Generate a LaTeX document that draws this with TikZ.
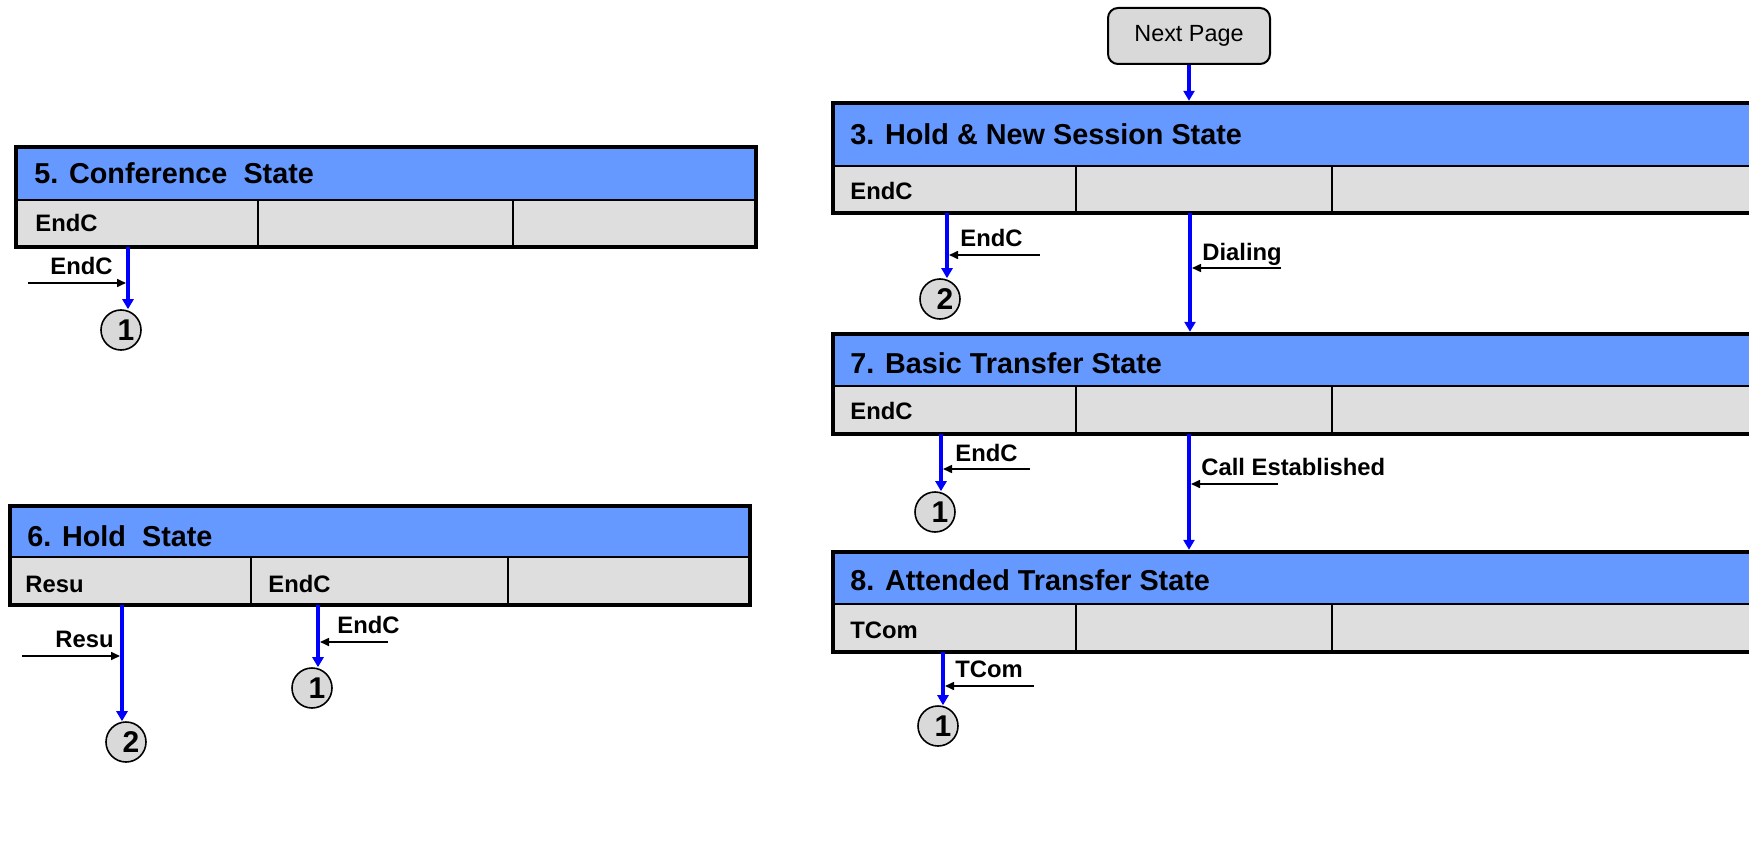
\documentclass[tikz,border=0pt]{standalone}
\usepackage{fontspec}
\setmainfont{Liberation Sans}
\usetikzlibrary{arrows.meta}
\definecolor{bandblue}{HTML}{6699FF}
\definecolor{cellgray}{HTML}{DEDEDE}
\definecolor{circgray}{HTML}{D9D9D9}
\definecolor{arrowblue}{HTML}{0000FF}
\newcommand{\cdigit}[1]{\hspace*{5pt}#1}
\tikzset{
  band/.style={fill=bandblue, draw=none, anchor=north west, inner sep=0pt, outer sep=0pt},
  cell/.style={fill=cellgray, draw=black, line width=1pt, anchor=north west, inner sep=0pt, outer sep=0pt},
  border/.style={draw=black, line width=2.3pt},
  titletext/.style={anchor=base west, inner sep=0pt, font=\bfseries\fontsize{14.4}{17}\selectfont},
  celltext/.style={anchor=base west, inner sep=0pt, font=\bfseries\fontsize{11.9}{14}\selectfont},
  conn/.style={circle, draw=black, line width=0.8pt, fill=circgray, minimum size=20pt, inner sep=0pt, font=\bfseries\fontsize{15}{17}\selectfont},
  pagebox/.style={rectangle, rounded corners=5pt, draw=black, line width=1pt, fill=circgray, minimum width=81pt, minimum height=28pt, inner sep=0pt, font=\fontsize{11.7}{14}\selectfont},
  bluearrow/.style={draw=arrowblue, line width=2pt, -{Triangle[length=5pt,width=5.5pt]}},
  blackarrow/.style={draw=black, line width=0.8pt, -{Triangle[length=4.5pt,width=4pt]}, shorten >=1pt},
}
\begin{document}
\begin{tikzpicture}[x=0.5pt, y=-0.5pt]
\useasboundingbox (0,0) rectangle (1749,850);
\clip (0,0) rectangle (1749,850);

% ---------- 5. Conference State ----------
\node[band, minimum width=370pt, minimum height=26.5pt] (s5) at (16,147) {};
\node[cell, minimum width=121pt, minimum height=23.5pt] (s5a) at (16,200) {};
\node[cell, minimum width=127.5pt, minimum height=23.5pt] (s5b) at (258,200) {};
\node[cell, minimum width=121.5pt, minimum height=23.5pt] (s5c) at (513,200) {};
\draw[border] (s5.north west) rectangle (s5c.south east);
\node[titletext] (s5t) at (34,184) {5. Conference\ \ State};
\node[celltext] (s5at) at (35,232) {EndC};

\coordinate (t5) at (128,247);
\node[conn] (c5) at (121,330) {\cdigit{1}};
\draw[bluearrow] (t5) -- (t5 |- c5.north);
\coordinate (e5) at (28,283);
\draw[blackarrow] (e5) -- (e5 -| t5);
\node[celltext] (l5) at (50,274) {EndC};

% ---------- 6. Hold State ----------
\node[band, minimum width=370pt, minimum height=25.5pt] (s6) at (10,506) {};
\node[cell, minimum width=120.5pt, minimum height=24pt] (s6a) at (10,557) {};
\node[cell, minimum width=128.5pt, minimum height=24pt] (s6b) at (251,557) {};
\node[cell, minimum width=121pt, minimum height=24pt] (s6c) at (508,557) {};
\draw[border] (s6.north west) rectangle (s6c.south east);
\node[titletext] (s6t) at (27,546) {6. Hold\ \ State};
\node[celltext] (s6at) at (25,592) {Resu};
\node[celltext] (s6bt) at (268,592) {EndC};

\coordinate (t6a) at (122,605);
\node[conn] (c6a) at (126,742) {\cdigit{2}};
\draw[bluearrow] (t6a) -- (t6a |- c6a.north);
\coordinate (e6a) at (22,656);
\draw[blackarrow] (e6a) -- (e6a -| t6a);
\node[celltext] (l6a) at (55,647) {Resu};

\coordinate (t6b) at (318,605);
\node[conn] (c6b) at (312,688) {\cdigit{1}};
\draw[bluearrow] (t6b) -- (t6b |- c6b.north);
\coordinate (e6b) at (388,642);
\draw[blackarrow] (e6b) -- (e6b -| t6b);
\node[celltext] (l6b) at (337,633) {EndC};

% ---------- Next Page ----------
\node[pagebox] (np) at (1189,36) {Next Page};

% ---------- 3. Hold & New Session State ----------
\node[band, minimum width=463.5pt, minimum height=31.5pt] (s3) at (833,103) {};
\node[cell, minimum width=121.5pt, minimum height=23.5pt] (s3a) at (833,166) {};
\node[cell, minimum width=128pt, minimum height=23.5pt] (s3b) at (1076,166) {};
\node[cell, minimum width=214pt, minimum height=23.5pt] (s3c) at (1332,166) {};
\draw[border] (s3.north west) rectangle (s3c.south east);
\node[titletext] (s3t) at (850,145) {3. Hold \& New Session State};
\node[celltext] (s3at) at (850,199) {EndC};

\draw[bluearrow, shorten >=1.1pt] (np.south) -- (np.south |- s3.north);

\coordinate (t3a) at (947,213);
\node[conn] (c3a) at (940,299) {\cdigit{2}};
\draw[bluearrow] (t3a) -- (t3a |- c3a.north);
\coordinate (e3a) at (1040,255);
\draw[blackarrow] (e3a) -- (e3a -| t3a);
\node[celltext] (l3a) at (960,247) {EndC};

% ---------- 7. Basic Transfer State ----------
\node[band, minimum width=463.5pt, minimum height=26pt] (s7) at (833,334) {};
\node[cell, minimum width=121.5pt, minimum height=24pt] (s7a) at (833,386) {};
\node[cell, minimum width=128pt, minimum height=24pt] (s7b) at (1076,386) {};
\node[cell, minimum width=214pt, minimum height=24pt] (s7c) at (1332,386) {};
\draw[border] (s7.north west) rectangle (s7c.south east);
\node[titletext] (s7t) at (850,373) {7. Basic Transfer State};
\node[celltext] (s7at) at (850,419) {EndC};

\coordinate (t3b) at (1190,213);
\draw[bluearrow, shorten >=1.1pt] (t3b) -- (t3b |- s7.north);
\coordinate (e3b) at (1281,268);
\draw[blackarrow] (e3b) -- (e3b -| t3b);
\node[celltext] (l3b) at (1202,260) {Dialing};

\coordinate (t7a) at (941,434);
\node[conn] (c7a) at (935,512) {\cdigit{1}};
\draw[bluearrow] (t7a) -- (t7a |- c7a.north);
\coordinate (e7a) at (1030,469);
\draw[blackarrow] (e7a) -- (e7a -| t7a);
\node[celltext] (l7a) at (955,461) {EndC};

% ---------- 8. Attended Transfer State ----------
\node[band, minimum width=463.5pt, minimum height=26pt] (s8) at (833,552) {};
\node[cell, minimum width=121.5pt, minimum height=24pt] (s8a) at (833,604) {};
\node[cell, minimum width=128pt, minimum height=24pt] (s8b) at (1076,604) {};
\node[cell, minimum width=214pt, minimum height=24pt] (s8c) at (1332,604) {};
\draw[border] (s8.north west) rectangle (s8c.south east);
\node[titletext] (s8t) at (850,590) {8. Attended Transfer State};
\node[celltext] (s8at) at (850,638) {TCom};

\coordinate (t7b) at (1189,434);
\draw[bluearrow, shorten >=1.1pt] (t7b) -- (t7b |- s8.north);
\coordinate (e7b) at (1278,484);
\draw[blackarrow] (e7b) -- (e7b -| t7b);
\node[celltext] (l7b) at (1201,475) {Call Established};

\coordinate (t8a) at (943,652);
\node[conn] (c8a) at (938,726) {\cdigit{1}};
\draw[bluearrow] (t8a) -- (t8a |- c8a.north);
\coordinate (e8a) at (1034,686);
\draw[blackarrow] (e8a) -- (e8a -| t8a);
\node[celltext] (l8a) at (955,677) {TCom};
\end{tikzpicture}
\end{document}
